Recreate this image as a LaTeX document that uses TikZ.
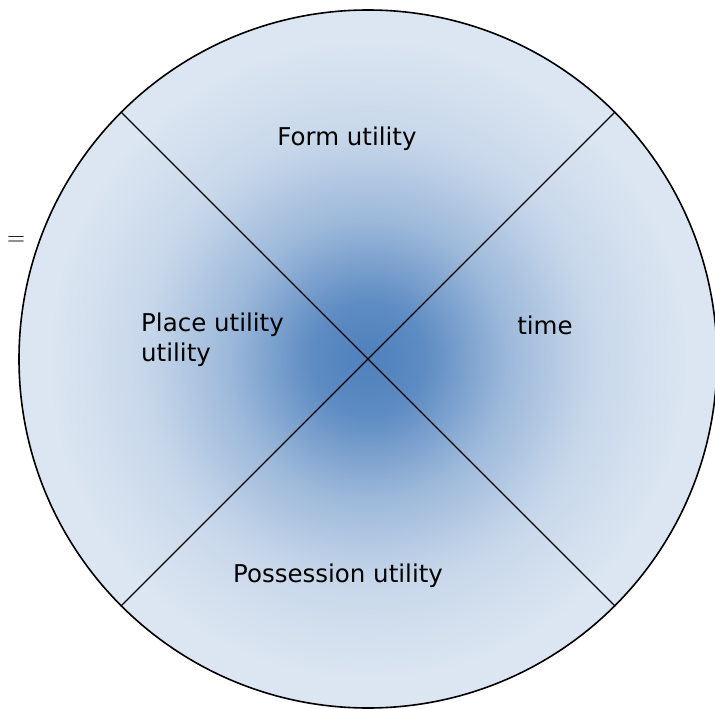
\documentclass[tikz,border=0pt]{standalone}
\usepackage{fontspec}
\newfontfamily\labelfont{DejaVu Sans}
\definecolor{utilblue}{HTML}{4F81BD}
\definecolor{utillight}{HTML}{DCE6F2}
\pgfdeclareradialshading{utilshade}{\pgfpoint{0bp}{0bp}}{%
  color(0bp)=(utilblue); color(4bp)=(utilblue!90!utillight);
  color(10bp)=(utilblue!45!utillight); color(16bp)=(utilblue!15!utillight);
  color(23bp)=(utillight); color(50bp)=(utillight)}
\tikzset{
  sector/.style={font=\labelfont\fontsize{24.5}{30}\selectfont, inner sep=0pt},
}
\begin{document}
\begin{tikzpicture}[x=1pt, y=-1pt]
                \useasboundingbox (0,0) rectangle (715,709);
                % Wheel
                \node[circle, draw, line width=1.6pt, inner sep=0pt, minimum size=698pt,
                      shading=utilshade] (wheel) at (368,359) {};
                % Dividers
                \foreach \a/\b in {45/225, 135/-45}
                    \draw[line width=1.2pt] (wheel.\a) -- (wheel.\b);
                % Sector labels
                \node[sector] (form) at (347,139) {Form utility};
                \node[sector, anchor=west, align=left] (place) at (141,340) {Place utility\\utility};
                \node[sector] (time) at (545,325) {time};
                \node[sector] (possession) at (338,576) {Possession utility};
                \node[font=\fontsize{34}{34}\selectfont, inner sep=0pt] (eq) at (16,241) {$=$};
            \end{tikzpicture}
\end{document}
